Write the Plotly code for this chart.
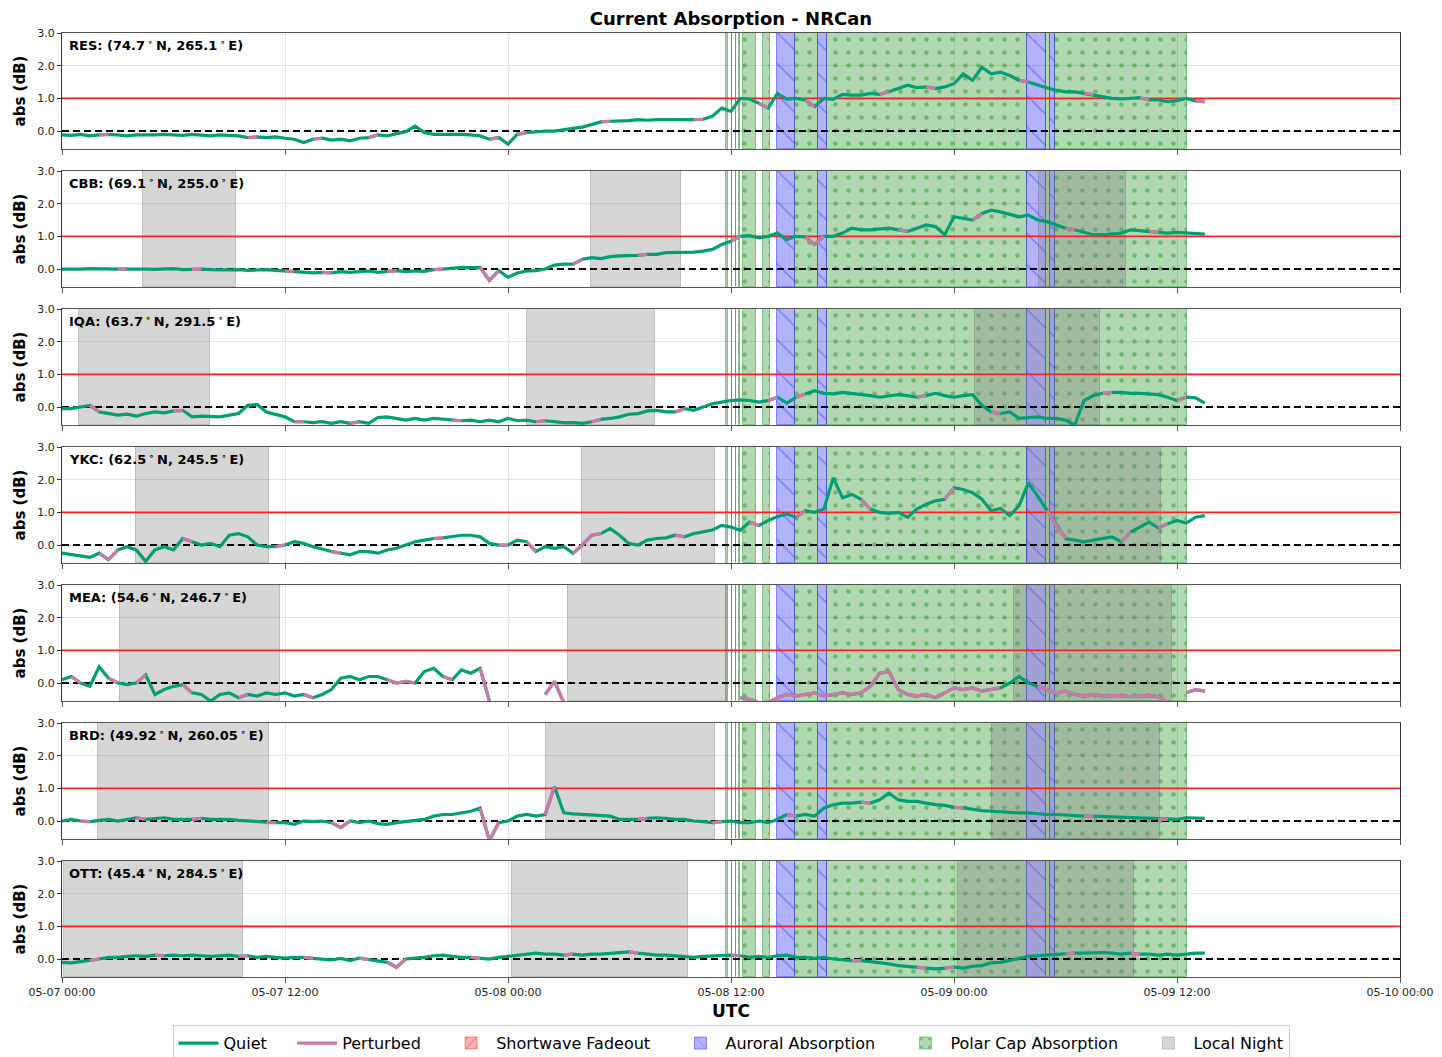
import pandas as pd
import plotly.graph_objects as go
from plotly.subplots import make_subplots

# ---------------- data ----------------
T0 = pd.Timestamp("2024-05-07 00:00")
STEP = "30min"
N_POINTS = 124
SPAN_HOURS = 72

stations = ["RES", "CBB", "IQA", "YKC", "MEA", "BRD", "OTT"]
station_labels = [
    "RES: (74.7\u2009<sup>\u2218</sup>\u2009N, 265.1\u2009<sup>\u2218</sup>\u2009E)",
    "CBB: (69.1\u2009<sup>\u2218</sup>\u2009N, 255.0\u2009<sup>\u2218</sup>\u2009E)",
    "IQA: (63.7\u2009<sup>\u2218</sup>\u2009N, 291.5\u2009<sup>\u2218</sup>\u2009E)",
    "YKC: (62.5\u2009<sup>\u2218</sup>\u2009N, 245.5\u2009<sup>\u2218</sup>\u2009E)",
    "MEA: (54.6\u2009<sup>\u2218</sup>\u2009N, 246.7\u2009<sup>\u2218</sup>\u2009E)",
    "BRD: (49.92\u2009<sup>\u2218</sup>\u2009N, 260.05\u2009<sup>\u2218</sup>\u2009E)",
    "OTT: (45.4\u2009<sup>\u2218</sup>\u2009N, 284.5\u2009<sup>\u2218</sup>\u2009E)",
]

res_abs = [-0.12, -0.13, -0.10, -0.15, -0.12, -0.10, -0.12, -0.15, -0.12, -0.13,
           -0.12, -0.10, -0.12, -0.13, -0.10, -0.12, -0.15, -0.12, -0.13, -0.15,
           -0.20, -0.18, -0.20, -0.18, -0.22, -0.25, -0.35, -0.25, -0.22, -0.28,
           -0.25, -0.30, -0.22, -0.20, -0.12, -0.15, -0.08, -0.02, 0.15, -0.05,
           -0.10, -0.10, -0.08, -0.10, -0.12, -0.15, -0.25, -0.20, -0.40, -0.10,
           -0.05, -0.02, 0.00, 0.00, 0.05, 0.08, 0.12, 0.20, 0.28, 0.30,
           0.30, 0.32, 0.35, 0.33, 0.35, 0.35, 0.35, 0.33, 0.35, 0.36,
           0.45, 0.70, 0.60, 1.00, 0.98, 0.85, 0.70, 1.15, 0.98, 1.00,
           0.95, 0.75, 1.00, 0.97, 1.12, 1.10, 1.10, 1.15, 1.12, 1.20,
           1.30, 1.40, 1.33, 1.35, 1.30, 1.35, 1.45, 1.75, 1.55, 1.95,
           1.75, 1.80, 1.70, 1.55, 1.50, 1.40, 1.32, 1.25, 1.20, 1.20,
           1.15, 1.12, 1.05, 1.00, 0.98, 1.00, 1.02, 0.95, 0.95, 0.90,
           0.93, 1.00, 0.92, 0.90]

cbb_abs = [0.00, -0.01, 0.00, 0.01, 0.00, -0.01, 0.00, 0.00, 0.01, 0.00,
           -0.01, 0.00, 0.01, -0.02, -0.01, 0.00, -0.02, -0.03, -0.03, -0.02,
           -0.04, -0.03, -0.02, -0.04, -0.06, -0.08, -0.10, -0.12, -0.10, -0.12,
           -0.08, -0.10, -0.08, -0.06, -0.10, -0.08, -0.05, -0.08, -0.06, -0.07,
           -0.02, 0.00, 0.03, 0.05, 0.04, 0.05, -0.35, -0.05, -0.25, -0.12,
           -0.06, -0.05, 0.00, 0.12, 0.15, 0.15, 0.30, 0.35, 0.32, 0.38,
           0.40, 0.40, 0.42, 0.45, 0.45, 0.50, 0.50, 0.52, 0.52, 0.55,
           0.60, 0.75, 0.85, 1.00, 1.02, 0.95, 1.00, 1.10, 0.90, 1.00,
           0.98, 0.75, 1.00, 1.00, 1.10, 1.25, 1.20, 1.20, 1.22, 1.25,
           1.20, 1.15, 1.25, 1.35, 1.30, 1.05, 1.60, 1.55, 1.50, 1.70,
           1.80, 1.75, 1.68, 1.60, 1.65, 1.50, 1.45, 1.35, 1.25, 1.20,
           1.12, 1.05, 1.05, 1.08, 1.10, 1.20, 1.18, 1.15, 1.12, 1.10,
           1.12, 1.10, 1.10, 1.07]

iqa_abs = [-0.05, -0.05, 0.00, 0.05, -0.15, -0.20, -0.25, -0.22, -0.28, -0.20,
           -0.15, -0.18, -0.12, -0.10, -0.30, -0.28, -0.30, -0.30, -0.25, -0.20,
           0.05, 0.08, -0.15, -0.22, -0.30, -0.45, -0.45, -0.48, -0.45, -0.50,
           -0.45, -0.50, -0.45, -0.50, -0.32, -0.30, -0.35, -0.40, -0.35, -0.40,
           -0.35, -0.38, -0.40, -0.42, -0.40, -0.45, -0.40, -0.45, -0.35, -0.42,
           -0.40, -0.45, -0.42, -0.45, -0.48, -0.48, -0.50, -0.45, -0.38, -0.35,
           -0.30, -0.22, -0.20, -0.12, -0.10, -0.15, -0.15, -0.05, -0.10, 0.00,
           0.10, 0.15, 0.20, 0.22, 0.20, 0.15, 0.20, 0.30, 0.12, 0.30,
           0.40, 0.50, 0.42, 0.40, 0.45, 0.42, 0.38, 0.35, 0.30, 0.35,
           0.38, 0.35, 0.30, 0.35, 0.42, 0.35, 0.30, 0.35, 0.38, 0.05,
           -0.15, -0.20, -0.15, -0.35, -0.32, -0.30, -0.35, -0.35, -0.40, -0.55,
           0.20, 0.35, 0.42, 0.45, 0.45, 0.42, 0.42, 0.40, 0.38, 0.30,
           0.20, 0.30, 0.28, 0.12]

ykc_abs = [-0.25, -0.30, -0.33, -0.38, -0.25, -0.45, -0.15, -0.05, -0.15, -0.50,
           -0.15, -0.05, -0.15, 0.20, 0.10, 0.00, 0.05, -0.05, 0.30, 0.35,
           0.25, 0.00, -0.05, -0.05, 0.00, 0.10, 0.05, -0.05, -0.12, -0.20,
           -0.25, -0.30, -0.20, -0.20, -0.25, -0.15, -0.10, 0.00, 0.10, 0.15,
           0.20, 0.22, 0.25, 0.30, 0.30, 0.25, 0.05, 0.00, 0.00, 0.15,
           0.10, -0.20, -0.05, -0.10, -0.05, -0.25, 0.00, 0.30, 0.35, 0.50,
           0.30, 0.05, 0.00, 0.15, 0.20, 0.22, 0.30, 0.25, 0.35, 0.40,
           0.46, 0.60, 0.55, 0.45, 0.70, 0.60, 0.75, 0.87, 0.95, 0.85,
           1.05, 1.00, 1.10, 2.05, 1.45, 1.55, 1.40, 1.10, 1.00, 0.97,
           1.00, 0.85, 1.10, 1.25, 1.35, 1.40, 1.75, 1.70, 1.60, 1.40,
           1.05, 1.12, 0.90, 1.20, 1.90, 1.50, 1.07, 0.60, 0.20, 0.15,
           0.10, 0.15, 0.20, 0.25, 0.10, 0.40, 0.55, 0.70, 0.52, 0.65,
           0.75, 0.67, 0.85, 0.90]

mea_abs = [0.10, 0.20, 0.00, -0.10, 0.50, 0.15, 0.00, -0.05, 0.00, 0.25,
           -0.35, -0.20, -0.10, -0.05, -0.30, -0.35, -0.55, -0.35, -0.30, -0.45,
           -0.35, -0.40, -0.30, -0.35, -0.30, -0.40, -0.35, -0.45, -0.35, -0.20,
           0.15, 0.20, 0.10, 0.20, 0.20, 0.10, 0.00, 0.05, 0.00, 0.35,
           0.45, 0.20, 0.10, 0.40, 0.30, 0.45, -0.55, None, None, None,
           None, None, -0.35, 0.05, -0.60, None, None, None, None, None,
           None, None, None, None, None, None, None, None, None, None,
           None, None, None, -0.45, -0.50, -0.60, -0.60, -0.45, -0.35, -0.40,
           -0.35, -0.30, -0.40, -0.35, -0.30, -0.35, -0.30, -0.10, 0.30, 0.35,
           -0.20, -0.35, -0.40, -0.35, -0.45, -0.30, -0.15, -0.20, -0.15, -0.25,
           -0.20, -0.15, 0.00, 0.20, 0.00, -0.10, -0.20, -0.30, -0.25, -0.35,
           -0.40, -0.35, -0.40, -0.40, -0.38, -0.42, -0.40, -0.38, -0.42, -0.60,
           None, -0.30, -0.20, -0.25]

brd_abs = [0.00, 0.05, 0.00, -0.02, 0.02, 0.05, 0.00, 0.05, 0.10, 0.05,
           0.08, 0.10, 0.05, 0.05, 0.05, 0.08, 0.05, 0.05, 0.05, 0.02,
           0.00, -0.02, -0.05, -0.05, -0.05, -0.10, 0.00, -0.02, 0.00, -0.05,
           -0.20, 0.00, -0.05, 0.00, -0.08, -0.10, -0.05, -0.02, 0.00, 0.05,
           0.15, 0.20, 0.20, 0.25, 0.30, 0.40, -0.60, -0.05, 0.00, 0.15,
           0.20, 0.15, 0.20, 1.05, 0.25, 0.22, 0.20, 0.20, 0.18, 0.15,
           0.05, 0.05, 0.05, 0.08, 0.10, 0.08, 0.05, 0.05, 0.00, -0.02,
           -0.05, -0.02, 0.00, -0.05, -0.05, 0.00, -0.05, 0.05, 0.20, 0.15,
           0.20, 0.15, 0.40, 0.50, 0.55, 0.55, 0.58, 0.55, 0.65, 0.85,
           0.65, 0.60, 0.60, 0.55, 0.50, 0.48, 0.42, 0.40, 0.35, 0.32,
           0.30, 0.28, 0.27, 0.25, 0.25, 0.22, 0.20, 0.20, 0.18, 0.17,
           0.15, 0.15, 0.14, 0.12, 0.12, 0.10, 0.10, 0.08, 0.06, 0.05,
           0.05, 0.10, 0.08, 0.08]

ott_abs = [-0.10, -0.12, -0.08, -0.05, 0.00, 0.05, 0.05, 0.08, 0.10, 0.08,
           0.12, 0.10, 0.12, 0.10, 0.12, 0.10, 0.08, 0.10, 0.12, 0.08,
           0.10, 0.05, 0.08, 0.05, 0.03, 0.05, 0.05, 0.02, 0.00, -0.03,
           0.02, -0.05, 0.03, -0.02, -0.05, -0.10, -0.25, 0.00, 0.03, 0.05,
           0.10, 0.12, 0.08, 0.05, 0.05, 0.02, 0.00, 0.05, 0.08, 0.12,
           0.15, 0.18, 0.15, 0.15, 0.12, 0.15, 0.12, 0.15, 0.15, 0.18,
           0.20, 0.22, 0.18, 0.15, 0.12, 0.12, 0.10, 0.08, 0.05, 0.08,
           0.10, 0.10, 0.12, 0.10, 0.05, 0.08, 0.05, 0.10, 0.12, 0.05,
           0.05, 0.02, 0.05, 0.00, -0.03, -0.05, -0.05, -0.08, -0.10, -0.15,
           -0.20, -0.22, -0.25, -0.28, -0.30, -0.28, -0.25, -0.28, -0.22, -0.20,
           -0.12, -0.10, -0.05, 0.02, 0.08, 0.10, 0.12, 0.15, 0.15, 0.18,
           0.18, 0.20, 0.20, 0.18, 0.15, 0.18, 0.15, 0.15, 0.12, 0.15,
           0.12, 0.15, 0.18, 0.18]

series = [res_abs, cbb_abs, iqa_abs, ykc_abs, mea_abs, brd_abs, ott_abs]

# indices k of samples whose segment k -> k+1 is flagged "perturbed"
perturbed_segments = [
    [4, 20, 27, 33, 46, 49, 58, 68, 75, 80, 88, 93, 103, 110, 116, 122],
    [6, 14, 24, 28, 35, 40, 45, 46, 55, 62, 72, 80, 81, 90, 98, 108, 117],
    [3, 12, 25, 31, 42, 51, 57, 66, 76, 79, 92, 100, 112, 120],
    [4, 5, 13, 23, 29, 40, 47, 50, 55, 57, 66, 74, 79, 86, 95, 106, 107, 114, 118],
    [1, 5, 8, 13, 19, 26, 35, 37, 41, 45, 46, 52, 53] + list(range(73, 101)) + list(range(105, 123)),
    [2, 8, 14, 22, 29, 30, 45, 46, 52, 62, 70, 78, 86, 96, 110, 118],
    [3, 10, 19, 26, 32, 35, 36, 44, 54, 61, 72, 85, 92, 95, 108, 115],
]

# local night windows, hours after 05-07 00:00 UTC
night_hours = [
    [],
    [(4.36, 9.36), (28.46, 33.31), (52.57, 57.25)],
    [(0.91, 7.96), (25.02, 31.91), (49.13, 55.85)],
    [(3.98, 11.14), (27.98, 35.14), (51.98, 59.14)],
    [(3.12, 11.73), (27.23, 35.78), (51.22, 59.73)],
    [(1.94, 11.14), (26.04, 35.14), (50.04, 59.08)],
    [(0.10, 9.74), (24.21, 33.68), (48.21, 57.68)],
]

# event windows (hours after 05-07 00:00 UTC)
pca_hours = [(35.73, 35.85), (36.05, 36.08), (36.25, 36.28), (36.45, 36.48),
             (36.66, 37.34), (37.70, 38.10), (39.44, 40.69), (41.16, 51.91),
             (52.95, 53.16), (53.43, 60.52)]
aa_hours = [(38.49, 39.44), (40.69, 41.16), (51.91, 52.95), (53.16, 53.43)]
swf_hours = []

Y_LO, Y_HI = -0.55, 3.0
THRESHOLD = 1.0
BASELINE = 0.0

# ---------------- figure ----------------
FONT = "DejaVu Sans"
PAGE_OFFSET = 8  # browser default body margin
times = pd.date_range(T0, periods=N_POINTS, freq=STEP)
X_END = T0 + pd.Timedelta(hours=SPAN_HOURS)
X0_STR = T0.strftime("%Y-%m-%d %H:%M:%S")
X1_STR = X_END.strftime("%Y-%m-%d %H:%M:%S")

fig = make_subplots(rows=len(stations), cols=1, shared_xaxes=True,
                    vertical_spacing=22 / 944)


def region_bar(intervals, name, fill, pattern, edge, showlegend, rank):
    if intervals:
        xs = [T0 + pd.Timedelta(hours=a) for a, b in intervals]
        ws = [(b - a) * 3600e3 for a, b in intervals]
        ys = [Y_HI - Y_LO] * len(intervals)
        bs = [Y_LO] * len(intervals)
    else:
        xs, ws, ys, bs = [T0], [0], [0], [Y_LO]
    marker = dict(color=fill, line=dict(color=edge, width=1))
    if pattern:
        marker["pattern"] = pattern
    return go.Bar(x=xs, y=ys, base=bs, width=ws, offset=0, name=name,
                  marker=marker, showlegend=showlegend, legendrank=rank,
                  legendgroup=name, hoverinfo="skip")


QUIET = "#009E73"
PERT = "#CC79A7"
PAD = "\u00a0" * 4

for r, (st, vals) in enumerate(zip(stations, series), start=1):
    first = r == 1
    fig.add_trace(region_bar(swf_hours, "Shortwave Fadeout" + PAD, "rgba(255,0,0,0.3)",
                             dict(shape="/", fgcolor="rgba(255,0,0,0.6)", size=8,
                                  solidity=0.15, fillmode="overlay"),
                             "rgba(255,0,0,0.4)", first, 3), row=r, col=1)
    fig.add_trace(region_bar(pca_hours, "Polar Cap Absorption" + PAD, "rgba(0,128,0,0.3)",
                             dict(shape=".", fgcolor="rgba(0,128,0,0.75)", size=13,
                                  solidity=0.1, fillmode="overlay"),
                             "rgba(0,128,0,0.4)", first, 5), row=r, col=1)
    fig.add_trace(region_bar(aa_hours, "Auroral Absorption" + PAD, "rgba(0,0,255,0.3)",
                             dict(shape="\\", fgcolor="rgba(0,0,255,0.7)", size=22,
                                  solidity=0.06, fillmode="overlay"),
                             "rgba(0,0,255,0.4)", first, 4), row=r, col=1)
    fig.add_trace(region_bar(night_hours[r - 1], "Local Night", "rgba(128,128,128,0.32)",
                             None, "rgba(110,110,110,0.35)", r == 2, 6), row=r, col=1)

    # reference lines
    fig.add_trace(go.Scatter(x=[T0, X_END], y=[THRESHOLD, THRESHOLD], mode="lines",
                             line=dict(color="#ff1f1f", width=1.8), showlegend=False,
                             hoverinfo="skip"), row=r, col=1)
    fig.add_trace(go.Scatter(x=[T0, X_END], y=[BASELINE, BASELINE], mode="lines",
                             line=dict(color="black", width=2, dash="7px,4px"),
                             showlegend=False, hoverinfo="skip"), row=r, col=1)

    # data
    fig.add_trace(go.Scatter(x=times, y=vals, mode="lines", name="Quiet" + PAD,
                             line=dict(color=QUIET, width=3.2), showlegend=first,
                             legendrank=1, legendgroup="Quiet"), row=r, col=1)
    seg = set(perturbed_segments[r - 1])
    pvals = [v if (i in seg or (i - 1) in seg) else None for i, v in enumerate(vals)]
    fig.add_trace(go.Scatter(x=times, y=pvals, mode="lines", name="Perturbed" + PAD,
                             line=dict(color=PERT, width=3.2), showlegend=first,
                             legendrank=2, legendgroup="Perturbed"), row=r, col=1)

    fig.add_annotation(text="<b>" + station_labels[r - 1] + "</b>",
                       xref="x domain", yref="y domain", x=0.004, y=0.985,
                       xanchor="left", yanchor="top", showarrow=False,
                       font=dict(family=FONT, size=13, color="black"),
                       row=r, col=1)

    fig.update_yaxes(range=[Y_LO, Y_HI], tickvals=[0, 1, 2, 3],
                     ticktext=["0.0", "1.0", "2.0", "3.0"],
                     showgrid=True, gridcolor="#e3e3e3", zeroline=False,
                     showline=True, linecolor="#333", linewidth=1, mirror=True,
                     ticks="outside", ticklen=4, tickcolor="#333",
                     tickfont=dict(family=FONT, size=11, color="#222"),
                     title=dict(text="<b>abs (dB)</b>", standoff=8,
                                font=dict(family=FONT, size=15, color="black")),
                     row=r, col=1)
    fig.update_xaxes(type="date", range=[X0_STR, X1_STR], tick0=X0_STR,
                     dtick=12 * 3600e3,
                     tickformat="%m-%d %H:%M", showgrid=True, gridcolor="#e3e3e3",
                     zeroline=False, showline=True, linecolor="#555", linewidth=1,
                     mirror=True, ticks="outside", ticklen=5, tickcolor="#555",
                     tickfont=dict(family=FONT, size=11, color="#222"),
                     row=r, col=1)

fig.update_xaxes(title=dict(text="<b>UTC</b>", standoff=6,
                            font=dict(family=FONT, size=17, color="black")),
                 row=len(stations), col=1)

fig.update_layout(
    width=1442, height=1057,
    margin=dict(l=62 - PAGE_OFFSET, r=42 + PAGE_OFFSET, t=33 - PAGE_OFFSET,
                b=80 + PAGE_OFFSET, autoexpand=False),
    paper_bgcolor="white", plot_bgcolor="white",
    barmode="overlay", bargap=0,
    font=dict(family=FONT, color="black"),
    title=dict(text="<b>Current Absorption - NRCan</b>", x=0.5, xref="paper",
               y=1 - (19 - PAGE_OFFSET) / 1057, yref="container",
               xanchor="center", yanchor="middle",
               font=dict(family=FONT, size=18, color="black")),
    legend=dict(orientation="h", x=0.5, xanchor="center", xref="paper",
                y=-0.051, yanchor="top", font=dict(family=FONT, size=16),
                bordercolor="#cccccc", borderwidth=1, bgcolor="white",
                traceorder="normal", itemwidth=40),
    hovermode=False,
)

fig.write_html("out.html")
